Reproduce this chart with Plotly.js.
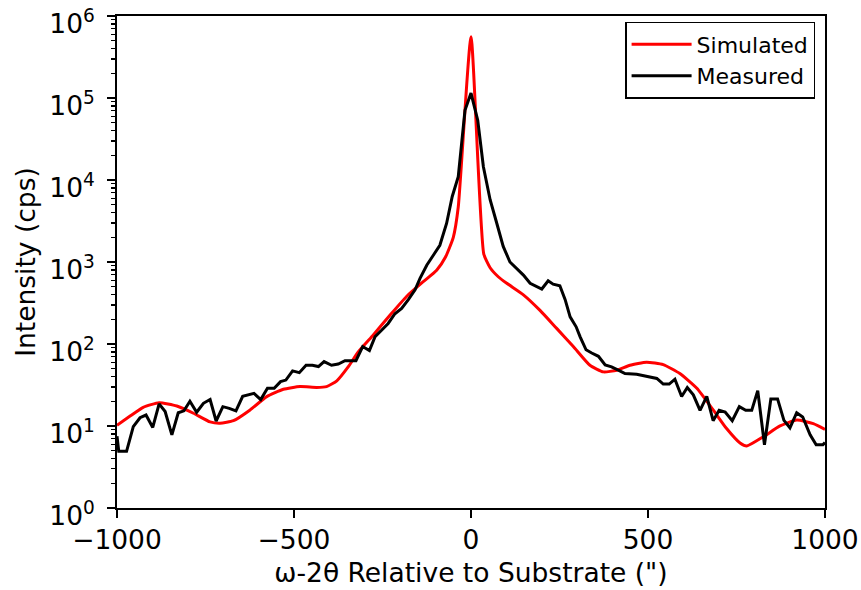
<!DOCTYPE html>
<html>
<head>
<meta charset="utf-8">
<script src="https://cdn.plot.ly/plotly-3.0.1.min.js"></script>
<style>html,body{margin:0;padding:0;background:#fff;}</style>
</head>
<body>
<div id="chart" style="width:861px;height:590px;"></div>
<script>
// Simulated curve (arcsec, cps)
const simX = [-1000,-963,-926,-881,-831,-784,-737,-709,-671,-624,-577,-530,-483,-436,-408,-379,-347,-318,-276,-229,-182,-135,-97,-72,-50,-36,0,36,54,77,101,148,195,242,289,336,374,412,449,496,543,590,638,684,722,760,779,826,873,920,967,1000];
const simY = [10.2,13.2,16.9,19.2,17.5,14.3,11.2,10.8,11.6,15.7,22.8,28.0,30.2,29.5,30.2,35.5,52.5,80.5,129,224,380,575,794,1150,2000,4680,560000,1260,851,661,550,398,257,155,93.3,55,45.7,47.9,55,60,56,43.6,28.8,15.7,9.3,6.2,5.7,7.4,10,11.8,10.7,9.1];

// Measured curve (arcsec, cps)
const measX = [-1000,-995,-973,-954,-935,-918,-899,-881,-864,-845,-827,-811,-794,-775,-756,-737,-720,-701,-683,-664,-645,-629,-613,-594,-575,-556,-538,-523,-504,-485,-466,-448,-431,-415,-394,-375,-356,-325,-306,-287,-271,-252,-234,-215,-196,-177,-158,-144,-125,-106,-88,-69,-53,-36,-17,0,19,35,54,73,91,110,129,148,167,181,200,218,232,251,266,280,297,308,325,341,360,379,397,416,435,468,506,525,543,560,576,595,611,628,647,666,684,701,718,738,758,776,793,810,829,847,866,884,901,920,937,958,975,994,1000];
const measY = [7.5,4.9,4.9,9.8,12.6,13.6,9.6,18.6,15,7.8,14.5,15.3,20,14.7,18.9,21,11.5,17.2,16.4,15.3,23,23.8,25,21,28.8,28.8,34.7,36.3,47,44.7,55,55,53,61,55,57,62.5,62.5,93,83,123,148,178,234,272,347,457,631,912,1216,1600,2950,6300,11000,70800,115000,53700,14500,5750,2950,1550,1000,832,692,550,513,468,589,537,513,347,214,162,123,85,77.6,70.8,55.5,52.5,47.9,43.6,42.7,39.8,38,32.4,32.4,37.2,22.9,29.5,24,15.5,22.9,11.6,15.5,14.8,11.6,17.2,15.5,15.5,27,5.9,21.4,21.4,11.7,9.5,14.5,12.9,7.8,5.9,5.9,6.3];

const xTicks = [-1000,-500,0,500,1000];
const yTickVals = [1,10,100,1000,10000,100000,1000000];
const yTickText = ['10<sup>0</sup>','10<sup>1</sup>','10<sup>2</sup>','10<sup>3</sup>','10<sup>4</sup>','10<sup>5</sup>','10<sup>6</sup>'];

const minorVals = [];
for (let k = 0; k < 6; k++) for (let m = 2; m <= 9; m++) minorVals.push(m * Math.pow(10, k));

const FONT = 'DejaVu Sans, sans-serif';

const traces = [
  {x: simX, y: simY, type: 'scatter', mode: 'lines', name: 'Simulated',
   line: {color: '#ff0000', width: 3, shape: 'spline', smoothing: 0.5}},
  {x: measX, y: measY, type: 'scatter', mode: 'lines', name: 'Measured',
   line: {color: '#000000', width: 3}}
];

const layout = {
  width: 861, height: 590,
  margin: {l: 117, r: 36, t: 16, b: 82},
  paper_bgcolor: '#fff', plot_bgcolor: '#fff',
  font: {family: FONT, color: '#000'},
  showlegend: true,
  legend: {x: 0.986, xanchor: 'right', y: 0.988, yanchor: 'top',
    bgcolor: '#fff', bordercolor: '#000', borderwidth: 1.5, itemwidth: 60,
    font: {family: FONT, size: 22, color: '#000'}},
  xaxis: {
    range: [-1000, 1000], tickmode: 'array', tickvals: xTicks,
    ticks: 'outside', ticklen: 8, tickwidth: 1.8, tickcolor: '#000',
    showline: true, linewidth: 1.8, linecolor: '#000', mirror: true,
    showgrid: false, zeroline: false,
    tickfont: {family: FONT, size: 26.5, color: '#000'},
    ticklabelstandoff: -1, ticklabeloverflow: 'allow',
    title: {text: 'ω-2θ Relative to Substrate (")', font: {family: FONT, size: 26.5, color: '#000'}, standoff: 10}
  },
  yaxis: {
    type: 'log', range: [-0.0005, 6.0005], tickmode: 'array', tickvals: yTickVals, ticktext: yTickText,
    ticks: 'outside', ticklen: 8, tickwidth: 1.8, tickcolor: '#000',
    minor: {tickmode: 'array', tickvals: minorVals, ticks: 'outside', ticklen: 4.5, tickwidth: 1.3, tickcolor: '#000', showgrid: false},
    showline: true, linewidth: 1.8, linecolor: '#000', mirror: true,
    showgrid: false, zeroline: false,
    tickfont: {family: FONT, size: 26.5, color: '#000'},
    ticklabelstandoff: 7, ticklabelshift: 8, ticklabeloverflow: 'allow',
    title: {text: 'Intensity (cps)', font: {family: FONT, size: 26.5, color: '#000'}, standoff: 6}
  }
};

Plotly.newPlot('chart', traces, layout, {displayModeBar: false, staticPlot: true});
</script>
</body>
</html>
